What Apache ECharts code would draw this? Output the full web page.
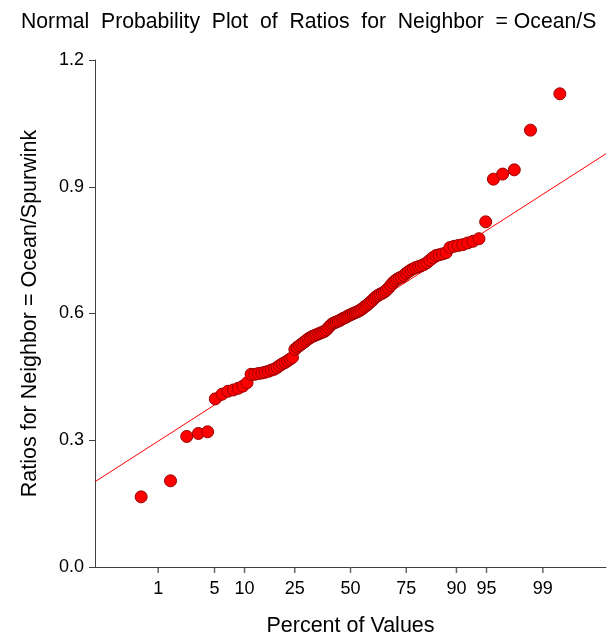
<!DOCTYPE html>
<html>
<head>
<meta charset="utf-8">
<script src="https://cdn.jsdelivr.net/npm/echarts@6/dist/echarts.min.js"></script>
<style>
  html, body { margin: 0; padding: 0; background: #fff; }
  #chart { width: 609px; height: 639px; }
</style>
</head>
<body>
<div id="chart"></div>
<script>
// Sorted ratios for Neighbor = Ocean/Spurwink
const ratios = [
  0.166, 0.204, 0.309, 0.316, 0.320, 0.398, 0.409, 0.416, 0.419, 0.423,
  0.428, 0.436, 0.456, 0.456, 0.458, 0.459, 0.461, 0.463, 0.466, 0.468,
  0.472, 0.477, 0.481, 0.484, 0.488, 0.492, 0.496, 0.515, 0.520, 0.524,
  0.528, 0.532, 0.536, 0.540, 0.543, 0.546, 0.548, 0.550, 0.552, 0.554,
  0.556, 0.558, 0.562, 0.567, 0.572, 0.576, 0.578, 0.580, 0.582, 0.584,
  0.587, 0.589, 0.591, 0.594, 0.596, 0.598, 0.600, 0.602, 0.604, 0.606,
  0.609, 0.612, 0.616, 0.619, 0.623, 0.627, 0.631, 0.636, 0.640, 0.643,
  0.646, 0.648, 0.651, 0.655, 0.660, 0.666, 0.672, 0.677, 0.681, 0.684,
  0.686, 0.690, 0.695, 0.699, 0.703, 0.706, 0.709, 0.711, 0.713, 0.716,
  0.720, 0.726, 0.732, 0.737, 0.739, 0.741, 0.744, 0.756, 0.759, 0.761,
  0.763, 0.767, 0.771, 0.777, 0.817, 0.918, 0.930, 0.940, 1.034, 1.120
];

// Percent tick labels on the probability axis
const percentTicks = [1, 5, 10, 25, 50, 75, 90, 95, 99];

// Value axis ticks
const yTicks = [0.0, 0.3, 0.6, 0.9, 1.2];

// Reference line: ratio = intercept + slope * z
const refIntercept = 0.590;
const refSlope = 0.1256;

// Probability axis range (percent)
const pctRange = [0.1, 99.9];

// Inverse standard normal CDF (Acklam's rational approximation)
function probit(p) {
  const a = [-3.969683028665376e+01, 2.209460984245205e+02, -2.759285104469687e+02,
             1.383577518672690e+02, -3.066479806614716e+01, 2.506628277459239e+00];
  const b = [-5.447609879822406e+01, 1.615858368580409e+02, -1.556989798598866e+02,
             6.680131188771972e+01, -1.328068155288572e+01];
  const c = [-7.784894002430293e-03, -3.223964580411365e-01, -2.400758277161838e+00,
             -2.549732539343734e+00, 4.374664141464968e+00, 2.938163982698783e+00];
  const d = [7.784695709041462e-03, 3.224671290700398e-01, 2.445134137142996e+00,
             3.754408661907416e+00];
  const pl = 0.02425, ph = 1 - pl;
  let q, r;
  if (p < pl) {
    q = Math.sqrt(-2 * Math.log(p));
    return (((((c[0]*q + c[1])*q + c[2])*q + c[3])*q + c[4])*q + c[5]) /
           ((((d[0]*q + d[1])*q + d[2])*q + d[3])*q + 1);
  }
  if (p > ph) {
    q = Math.sqrt(-2 * Math.log(1 - p));
    return -(((((c[0]*q + c[1])*q + c[2])*q + c[3])*q + c[4])*q + c[5]) /
            ((((d[0]*q + d[1])*q + d[2])*q + d[3])*q + 1);
  }
  q = p - 0.5;
  r = q * q;
  return (((((a[0]*r + a[1])*r + a[2])*r + a[3])*r + a[4])*r + a[5]) * q /
         (((((b[0]*r + b[1])*r + b[2])*r + b[3])*r + b[4])*r + 1);
}

// Blom plotting positions for the sorted values
const n = ratios.length;
const points = ratios.map((v, i) => [probit((i + 1 - 0.375) / (n + 0.25)), v]);

const zMin = probit(pctRange[0] / 100);
const zMax = probit(pctRange[1] / 100);
const tickZ = percentTicks.map(p => probit(p / 100));

function labelFor(z) {
  let best = 0, bd = Infinity;
  tickZ.forEach((t, k) => { const dd = Math.abs(t - z); if (dd < bd) { bd = dd; best = k; } });
  return String(percentTicks[best]);
}

const font = 'Liberation Sans, Arial, sans-serif';
const axisColor = '#404040';

const chart = echarts.init(document.getElementById('chart'), null, { renderer: 'canvas' });
chart.setOption({
  animation: false,
  backgroundColor: '#ffffff',
  title: {
    text: 'Normal  Probability  Plot  of  Ratios  for  Neighbor  = Ocean/S',
    left: 16,
    top: 7,
    textStyle: { fontFamily: font, fontSize: 21.2, fontWeight: 'normal', color: '#000' }
  },
  grid: { left: 95, right: 3, top: 60, bottom: 72, outerBoundsMode: 'none', containLabel: false },
  xAxis: {
    type: 'value',
    min: zMin,
    max: zMax,
    name: 'Percent of Values',
    nameLocation: 'middle',
    nameGap: 48,
    nameTextStyle: { fontFamily: font, fontSize: 21.5, color: '#000' },
    axisLine: { show: true, onZero: false, lineStyle: { color: axisColor, width: 1 } },
    axisTick: { show: false },
    axisLabel: {
      customValues: tickZ,
      formatter: v => labelFor(v),
      fontFamily: font, fontSize: 18, color: '#000', margin: 13
    },
    splitLine: { show: false }
  },
  yAxis: {
    type: 'value',
    min: 0,
    max: 1.2,
    interval: 0.3,
    name: 'Ratios for Neighbor = Ocean/Spurwink',
    nameLocation: 'middle',
    nameGap: 54,
    nameTextStyle: { fontFamily: font, fontSize: 21.5, color: '#000' },
    axisLine: { show: true, onZero: false, lineStyle: { color: axisColor, width: 1 } },
    axisTick: { show: true, length: 6, lineStyle: { color: axisColor } },
    axisLabel: {
      formatter: v => {
        const hit = yTicks.find(t => Math.abs(t - v) < 1e-9);
        return hit === undefined ? '' : hit.toFixed(1);
      },
      fontFamily: font, fontSize: 18, color: '#000', margin: 11
    },
    splitLine: { show: false }
  },
  series: [
    {
      // short tick marks hanging below the probability axis at each percent label
      type: 'scatter',
      data: tickZ.map(z => [z, 0]),
      symbol: 'rect',
      symbolSize: [1.5, 5],
      symbolOffset: [0, 3.5],
      itemStyle: { color: axisColor, borderWidth: 0 },
      clip: false,
      silent: true,
      z: 0
    },
    {
      type: 'line',
      data: [[zMin, refIntercept + refSlope * zMin], [zMax, refIntercept + refSlope * zMax]],
      showSymbol: false,
      lineStyle: { color: '#ff0000', width: 1 },
      silent: true,
      z: 1
    },
    {
      type: 'scatter',
      data: points,
      symbol: 'circle',
      symbolSize: 12,
      itemStyle: { color: '#ff0000', borderColor: '#990000', borderWidth: 1, opacity: 1 },
      z: 2
    }
  ]
});
</script>
</body>
</html>
